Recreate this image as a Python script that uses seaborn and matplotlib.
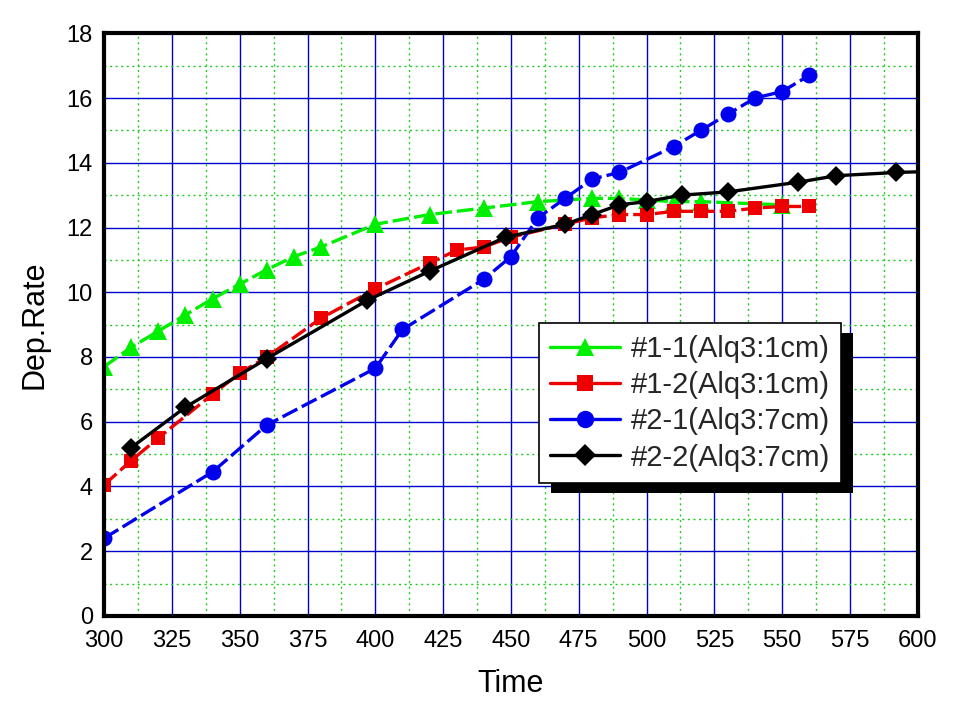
import numpy as np
import pandas as pd
import matplotlib
matplotlib.use("Agg")
import matplotlib.pyplot as plt
from matplotlib.lines import Line2D
from matplotlib.patches import Rectangle
from matplotlib.ticker import MultipleLocator
import seaborn as sns

# values
names = ["#1-1(Alq3:1cm)", "#1-2(Alq3:1cm)", "#2-1(Alq3:7cm)", "#2-2(Alq3:7cm)"]

t_11 = [300, 310, 320, 330, 340, 350, 360, 370, 380, 400, 420, 440, 460, 480, 490, 500, 510, 520, 550]
r_11 = [7.7, 8.3, 8.8, 9.3, 9.8, 10.25, 10.7, 11.1, 11.4, 12.1, 12.4, 12.6, 12.8, 12.9, 12.9, 12.85, 12.8, 12.8, 12.7]

t_12 = [300, 310, 320, 340, 350, 360, 380, 400, 420, 430, 440, 450, 470, 480, 490, 500, 510, 520, 530, 540, 550, 560]
r_12 = [4.05, 4.8, 5.5, 6.85, 7.5, 8.0, 9.2, 10.1, 10.9, 11.3, 11.4, 11.7, 12.1, 12.3, 12.4, 12.4, 12.5, 12.5, 12.5, 12.6, 12.65, 12.65]

t_21 = [300, 340, 360, 400, 410, 440, 450, 460, 470, 480, 490, 510, 520, 530, 540, 550, 560]
r_21 = [2.4, 4.45, 5.9, 7.65, 8.85, 10.4, 11.1, 12.3, 12.9, 13.5, 13.7, 14.5, 15.0, 15.5, 16.0, 16.2, 16.7]

t_22 = [310, 330, 360, 397, 420, 448, 470, 480, 490, 500, 513, 530, 556, 570, 592, 612]
r_22 = [5.2, 6.45, 7.95, 9.75, 10.65, 11.7, 12.1, 12.4, 12.7, 12.8, 13.0, 13.1, 13.4, 13.6, 13.7, 13.75]

colors = ["#00ee00", "#ee0000", "#0000ee", "#000000"]
marks = ["^", "s", "o", "D"]
line_dash = [(5, 1.5), (5, 1.5), (5, 1.5), ""]

df = pd.concat([
    pd.DataFrame({"Time": t, "Dep.Rate": r, "series": n})
    for t, r, n in zip([t_11, t_12, t_21, t_22], [r_11, r_12, r_21, r_22], names)
])

sns.set_style("white")
plt.rcParams["font.family"] = ["Liberation Sans", "DejaVu Sans"]

fig = plt.figure(figsize=(9.55, 7.08), dpi=100)
ax = fig.add_axes([0.109, 0.130, 0.852, 0.823])

sizes = {"^": 12.5, "s": 10, "o": 11.5, "D": 10}
for n, c, m, d in zip(names, colors, marks, line_dash):
    sub = df[df["series"] == n]
    sns.lineplot(data=sub, x="Time", y="Dep.Rate", ax=ax, color=c, marker=m,
                 markersize=sizes[m], markeredgewidth=0, linewidth=2.4,
                 legend=False, zorder=3)
# dashed style for the first three
for line, d in zip(ax.get_lines(), line_dash):
    if d:
        line.set_dashes(d)

ax.set_xlim(300, 600)
ax.set_ylim(0, 18)
ax.xaxis.set_major_locator(MultipleLocator(25))
ax.xaxis.set_minor_locator(MultipleLocator(12.5))
ax.yaxis.set_major_locator(MultipleLocator(2))
ax.yaxis.set_minor_locator(MultipleLocator(1))
ax.set_axisbelow(True)
ax.grid(which="major", color="#0000cc", linewidth=1, linestyle="-")
ax.grid(which="minor", color="#22cc22", linewidth=1, linestyle=(0, (1.5, 2.5)))
ax.tick_params(which="both", length=0, labelsize=17, colors="black")
ax.tick_params(axis="y", pad=8)
ax.tick_params(axis="x", pad=10)
for s in ax.spines.values():
    s.set_linewidth(3)
    s.set_color("black")
    s.set_zorder(5)

ax.set_xlabel("Time", fontsize=22, labelpad=12, color="black")
ax.set_ylabel("Dep.Rate", fontsize=22, labelpad=12, color="black")

handles = [Line2D([], [], color=c, marker=m, markersize=sizes[m] + 1, markeredgewidth=0, linewidth=2.4)
           for c, m in zip(colors, marks)]
leg = ax.legend(handles, names, loc="upper left", bbox_to_anchor=(0.534, 0.502),
                fontsize=21, frameon=True, fancybox=False, framealpha=1,
                edgecolor="black", handlelength=2.4, handletextpad=0.35,
                labelspacing=0.28, borderpad=0.4, borderaxespad=0)
leg.get_frame().set_linewidth(1.2)
leg.set_zorder(10)

# solid black drop shadow offset down/right of the legend box
fig.canvas.draw()
bb = leg.get_window_extent().transformed(fig.transFigure.inverted())
shadow = Rectangle((bb.x0 + 12 / 955, bb.y0 - 10 / 708), bb.width, bb.height,
                   transform=fig.transFigure, facecolor="black", edgecolor="none", zorder=9)
ax.add_artist(shadow)
shadow.set_clip_on(False)

fig.savefig("out.png", dpi=100)
